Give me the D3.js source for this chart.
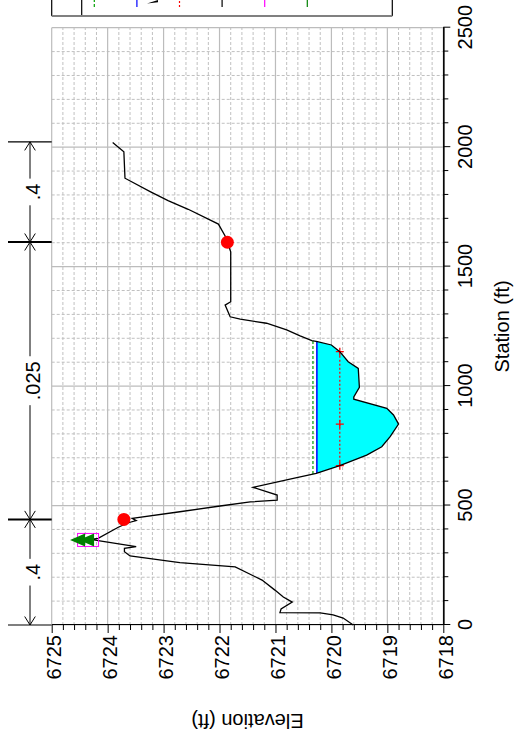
<!DOCTYPE html>
<html>
<head>
<meta charset="utf-8">
<script src="https://cdn.jsdelivr.net/npm/d3@7"></script>
<style>
  html, body { margin: 0; padding: 0; background: #fff; }
  svg { display: block; }
  text { font-family: "Liberation Sans", Arial, sans-serif; }
</style>
</head>
<body>
<script>
// ---- Cross-section ground profile (station ft, elevation ft) ----
const groundStation = [0, 29, 42, 51, 52, 67, 96, 117, 146, 188, 243, 261, 289, 307, 321, 328, 353, 358, 363,
  409, 428, 437, 446, 474, 498, 515, 523, 544, 576, 614, 635, 667, 711, 746, 788, 841, 879, 907, 945, 955,
  995, 1074, 1102, 1144, 1172, 1186, 1190, 1210, 1235, 1263, 1280, 1290, 1339, 1353, 1562, 1602, 1628,
  1678, 1740, 1776, 1814, 1870, 1981, 2020];
const groundElev = [6719.61, 6719.79, 6719.97, 6720.20, 6720.92, 6720.90, 6720.70, 6720.86, 6721.01, 6721.24,
  6721.72, 6722.71, 6723.60, 6723.70, 6723.70, 6723.49, 6724.17, 6724.30, 6724.17,
  6723.81, 6723.63, 6723.49, 6723.56, 6722.71, 6721.99, 6721.45, 6720.97, 6720.97, 6721.40, 6720.68,
  6720.27, 6719.85, 6719.37, 6719.10, 6718.95, 6718.80, 6718.89, 6719.01, 6719.60, 6719.60,
  6719.50, 6719.52, 6719.70, 6719.85, 6720.00, 6720.25, 6720.35, 6720.56, 6720.80, 6721.16,
  6721.63, 6721.81, 6721.90, 6721.80, 6721.80, 6721.86, 6721.90,
  6722.02, 6722.56, 6722.92, 6723.24, 6723.69, 6723.71, 6723.91];

// ---- Profile results ----
const wsElev = 6720.26;     // water surface
const egElev = 6720.33;     // energy grade
const critElev = 6719.85;   // critical water surface

// ---- Bank stations ----
const bankStation = [442, 1602];
const bankElev = [6723.71, 6721.86];

// ---- Levee / ineffective markers ----
const leveeStation = [356];
const leveeElev = [6724.35];

// ---- Manning's n breaks and values ----
const nBreaks = [0, 442, 1603, 2022];
const nValues = [".4", ".025", ".4"];

// ---- Axis ticks ----
const stationTicks = [0, 500, 1000, 1500, 2000, 2500];
const elevTicks = [6718, 6719, 6720, 6721, 6722, 6723, 6724, 6725];

// ---- Legend swatches ----
const legendColors = ["#00a000", "#0000ff", "#ff0000", "#000000", "#ff00ff", "#008000"];
const legendDash = ["3,2", null, "2,2", null, null, null];

// Page is 521 wide by 738 tall; the chart is laid out in a 738 x 521 frame and turned a quarter turn.
const PW = 521, PH = 738;
const svg = d3.select("body").append("svg").attr("width", PW).attr("height", PH);
const g = svg.append("g").attr("transform", `translate(0,${PH}) rotate(-90)`);

const x = d3.scaleLinear().domain([0, 2500]).range([113, 710.3]);
const y = d3.scaleLinear().domain([6718, 6725]).range([443.3, 51.7]);
const [x0, x1] = x.range();
const [yb, yt] = y.range();

// ---- Grid ----
const grid = g.append("g");
const minorSta = d3.range(0, 2501, 100).filter(d => d % 500 !== 0);
const minorElev = d3.range(1, 35).map(i => 6718 + i * 0.2).filter((d, i) => (i + 1) % 5 !== 0);
grid.selectAll(".msx").data(minorSta).join("line")
  .attr("x1", d => x(d)).attr("x2", d => x(d)).attr("y1", yt).attr("y2", yb)
  .attr("stroke", "#c0c0c0").attr("stroke-width", 1).attr("stroke-dasharray", "3,2");
grid.selectAll(".mey").data(minorElev).join("line")
  .attr("x1", x0).attr("x2", x1).attr("y1", d => y(d)).attr("y2", d => y(d))
  .attr("stroke", "#c0c0c0").attr("stroke-width", 1).attr("stroke-dasharray", "3,2");
grid.selectAll(".Msx").data(stationTicks).join("line")
  .attr("x1", d => x(d)).attr("x2", d => x(d)).attr("y1", yt).attr("y2", yb)
  .attr("stroke", "#bcbcbc").attr("stroke-width", 1.2);
grid.selectAll(".Mey").data(elevTicks).join("line")
  .attr("x1", x0).attr("x2", x1).attr("y1", d => y(d)).attr("y2", d => y(d))
  .attr("stroke", "#bcbcbc").attr("stroke-width", 1.2);

// ---- Helpers on the ground profile ----
const ground = groundStation.map((s, i) => [s, groundElev[i]]);
const thalweg = ground.reduce((a, b) => (b[1] < a[1] ? b : a));
const thalIdx = ground.indexOf(thalweg);
// station where the ground crosses elevation e, searching outward from the thalweg
function crossing(e, dir) {
  for (let i = thalIdx; i + dir >= 0 && i + dir < ground.length; i += dir) {
    const a = ground[i], b = ground[i + dir];
    if (a[1] <= e && b[1] >= e) {
      const t = (e - a[1]) / (b[1] - a[1]);
      return { s: a[0] + t * (b[0] - a[0]), i };
    }
  }
  return null;
}

// ---- Water area ----
const wl = crossing(wsElev, -1), wr = crossing(wsElev, 1);
const waterPts = [[wl.s, wsElev]]
  .concat(ground.slice(wl.i, wr.i + 1).filter(p => p[0] > wl.s && p[0] < wr.s))
  .concat([[wr.s, wsElev]]);
g.append("path")
  .attr("d", d3.line().x(d => x(d[0])).y(d => y(d[1]))(waterPts) + "Z")
  .attr("fill", "#00ffff").attr("stroke", "none");

// Energy grade
const el = crossing(egElev, -1), er = crossing(egElev, 1);
g.append("line").attr("x1", x(el.s)).attr("x2", x(er.s)).attr("y1", y(egElev)).attr("y2", y(egElev))
  .attr("stroke", "#00a000").attr("stroke-width", 1.2).attr("stroke-dasharray", "3,2");
// Water surface
g.append("line").attr("x1", x(wl.s)).attr("x2", x(wr.s)).attr("y1", y(wsElev)).attr("y2", y(wsElev))
  .attr("stroke", "#0000ff").attr("stroke-width", 1.5);
// Critical
const cl = crossing(critElev, -1), cr = crossing(critElev, 1);
g.append("line").attr("x1", x(cl.s)).attr("x2", x(cr.s)).attr("y1", y(critElev)).attr("y2", y(critElev))
  .attr("stroke", "#ff0000").attr("stroke-width", 1.2).attr("stroke-dasharray", "2,2");
g.selectAll(".cp").data([cl.s, thalweg[0], cr.s]).join("path")
  .attr("d", d => `M${x(d) - 4},${y(critElev)}h8M${x(d)},${y(critElev) - 4}v8`)
  .attr("stroke", "#ff0000").attr("stroke-width", 1.3);

// ---- Ground line ----
g.append("path")
  .attr("d", d3.line().x(d => x(d[0])).y(d => y(d[1]))(ground))
  .attr("fill", "none").attr("stroke", "#000").attr("stroke-width", 1.3);

// ---- Bank stations ----
g.selectAll(".bank").data(bankStation).join("circle")
  .attr("cx", d => x(d)).attr("cy", (d, i) => y(bankElev[i])).attr("r", 6.5).attr("fill", "#ff0000");

// ---- Ineffective / levee markers ----
leveeStation.forEach((s, i) => {
  const cx = x(s), cy = y(leveeElev[i]);
  g.append("rect").attr("x", cx - 6.5).attr("y", cy - 10.5).attr("width", 13).attr("height", 21)
    .attr("fill", "none").attr("stroke", "#ff00ff").attr("stroke-width", 1);
  [0, 9].forEach(off => {
    g.append("path")
      .attr("d", `M${cx},${cy - 18 + off}L${cx + 6.5},${cy - 3 + off}L${cx - 6.5},${cy - 3 + off}Z`)
      .attr("fill", "#008000");
  });
});

// ---- Axes ----
g.append("g").attr("transform", `translate(0,${yb})`)
  .call(d3.axisBottom(x).tickValues(stationTicks).tickSize(7).tickSizeOuter(0).tickPadding(8).tickFormat(d3.format("d")));
g.append("g").attr("transform", `translate(0,${yb})`)
  .call(d3.axisBottom(x).tickValues(minorSta).tickSize(5).tickSizeOuter(0).tickFormat(""));
const axL = g.append("g").attr("transform", `translate(${x0},0)`)
  .call(d3.axisLeft(y).tickValues(elevTicks).tickSize(8).tickSizeOuter(0).tickPadding(2).tickFormat(d3.format("d")));
g.append("g").attr("transform", `translate(${x0},0)`)
  .call(d3.axisLeft(y).tickValues(minorElev).tickSize(5).tickSizeOuter(0).tickFormat(""));
g.selectAll(".tick text").attr("font-size", 20).attr("fill", "#000")
  .attr("font-family", "'Liberation Sans', Arial, sans-serif");
axL.selectAll(".tick text").attr("dy", "0.45em");
g.selectAll(".domain").attr("stroke", "#000").attr("stroke-width", 1.2);
g.selectAll(".tick line").attr("stroke", "#000");

g.append("text").attr("x", (x0 + x1) / 2).attr("y", 509).attr("text-anchor", "middle")
  .attr("font-size", 20).text("Station (ft)");
g.append("text").attr("transform", `translate(24,${(yt + yb) / 2}) rotate(-90)`)
  .attr("text-anchor", "middle").attr("font-size", 20).text("Elevation (ft)");

// ---- Manning's n dimension lines ----
const nTop = 8, nLine = 30;
g.selectAll(".nb").data(nBreaks).join("line")
  .attr("x1", d => x(d)).attr("x2", d => x(d)).attr("y1", nTop).attr("y2", yt)
  .attr("stroke", "#000").attr("stroke-width", (d, i) => (i === 0 || i === nBreaks.length - 1) ? 1.2 : 2);
nValues.forEach((v, i) => {
  const a = x(nBreaks[i]), b = x(nBreaks[i + 1]), m = (a + b) / 2;
  const t = g.append("text").attr("x", m).attr("y", 39.5).attr("text-anchor", "middle")
    .attr("font-size", 20).text(v);
  const half = t.node().getComputedTextLength() / 2 + 5;
  g.append("path").attr("d", `M${a},${nLine}H${m - half}M${m + half},${nLine}H${b}`)
    .attr("stroke", "#000").attr("stroke-width", 1);
  g.append("path")
    .attr("d", `M${a + 8.5},${nLine - 5.3}L${a},${nLine}L${a + 8.5},${nLine + 5.3}` +
               `M${b - 8.5},${nLine - 5.3}L${b},${nLine}L${b - 8.5},${nLine + 5.3}`)
    .attr("fill", "none").attr("stroke", "#000").attr("stroke-width", 1);
});

// ---- Legend (mostly beyond the page edge) ----
const lg = g.append("g");
const lx = 722, ly0 = 51.7, ly1 = 392.3;
lg.append("line").attr("x1", lx).attr("x2", 760).attr("y1", ly0).attr("y2", ly0).attr("stroke", "#000").attr("stroke-width", 1.2);
lg.append("line").attr("x1", lx).attr("x2", 760).attr("y1", ly1).attr("y2", ly1).attr("stroke", "#000").attr("stroke-width", 1.2);
lg.append("line").attr("x1", lx).attr("x2", 760).attr("y1", 81.7).attr("y2", 81.7).attr("stroke", "#000").attr("stroke-width", 1.2);
lg.append("line").attr("x1", lx).attr("x2", lx).attr("y1", ly0).attr("y2", ly1).attr("stroke", "#808080").attr("stroke-width", 2);
lg.selectAll(".li").data(legendColors).join("line")
  .attr("x1", 731).attr("x2", 760)
  .attr("y1", (d, i) => 94.3 + i * 42.6).attr("y2", (d, i) => 94.3 + i * 42.6)
  .attr("stroke", d => d).attr("stroke-width", 1.2)
  .attr("stroke-dasharray", (d, i) => legendDash[i]);
// arrow glyph of the flow-direction entry, cut by the page edge
lg.append("path").attr("d", "M734.5,147L738,158L735.8,158Z").attr("fill", "#000");
</script>
</body>
</html>
